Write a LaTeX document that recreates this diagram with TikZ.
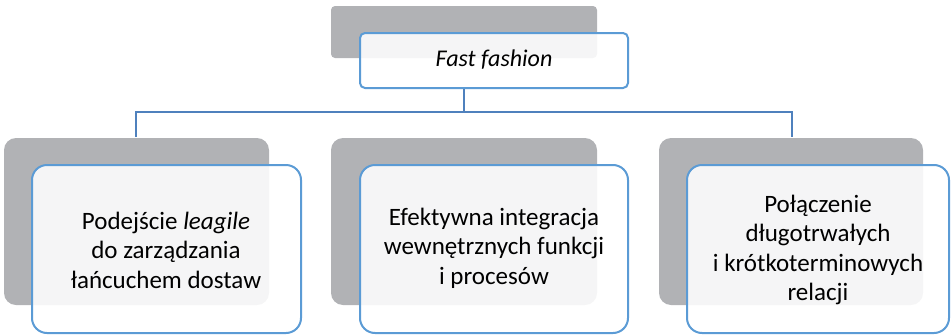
\documentclass[tikz,border=0pt]{standalone}
\usepackage{fontspec}
\setmainfont{Carlito}
\begin{document}
\begin{tikzpicture}[x=1pt,y=-1pt,
  shadowbox/.style={fill=boxgray,draw=none,rounded corners=#1},
  frontbox/.style={draw=frameblue,line width=2pt,fill=white,fill opacity=0.88,text opacity=1,rounded corners=#1},
  link/.style={draw=linkblue,line width=2.2pt},
  label/.style={font=\fontsize{25}{29.5}\selectfont,align=center,text=black}]
\definecolor{boxgray}{HTML}{B1B2B5}
\definecolor{frameblue}{HTML}{5B9BD5}
\definecolor{linkblue}{HTML}{4F81BD}
\useasboundingbox (0,0) rectangle (951,335);
\clip (0,0) rectangle (951,335);

% named anchor points of the tree
\coordinate (top) at (464,88);
\coordinate (hub) at (464,112);
\coordinate (jl) at (136,112);
\coordinate (jr) at (792,112);
\coordinate (dl) at (136,137);
\coordinate (dr) at (792,137);

% connectors
\draw[link] (top) -- (hub);
\draw[link] (dl) -- (jl) -- (jr) -- (dr);

% back plates
\path[shadowbox=4pt] (331,6) rectangle (597,58);
\path[shadowbox=12pt] (4,138) rectangle (269,305);
\path[shadowbox=12pt] (331,138) rectangle (597,305);
\path[shadowbox=12pt] (659,138) rectangle (923,305);

% front boxes
\path[frontbox=5pt] (360,33) rectangle (628,88);
\path[frontbox=15pt] (32,165) rectangle (301,333);
\path[frontbox=15pt] (360,165) rectangle (628,333);
\path[frontbox=15pt] (687,165) rectangle (949,333);

% texts
\node[label,font=\fontsize{24}{28}\selectfont\itshape] (root) at (494,60) {Fast fashion};
\node[label] (a) at (166,250) {Podejście \textit{leagile}\\do zarządzania\\łańcuchem dostaw};
\node[label] (b) at (494,248) {Efektywna integracja\\wewnętrznych funkcji\\i procesów};
\node[label] (c) at (818,250) {Połączenie\\długotrwałych\\i krótkoterminowych\\relacji};
\end{tikzpicture}
\end{document}
